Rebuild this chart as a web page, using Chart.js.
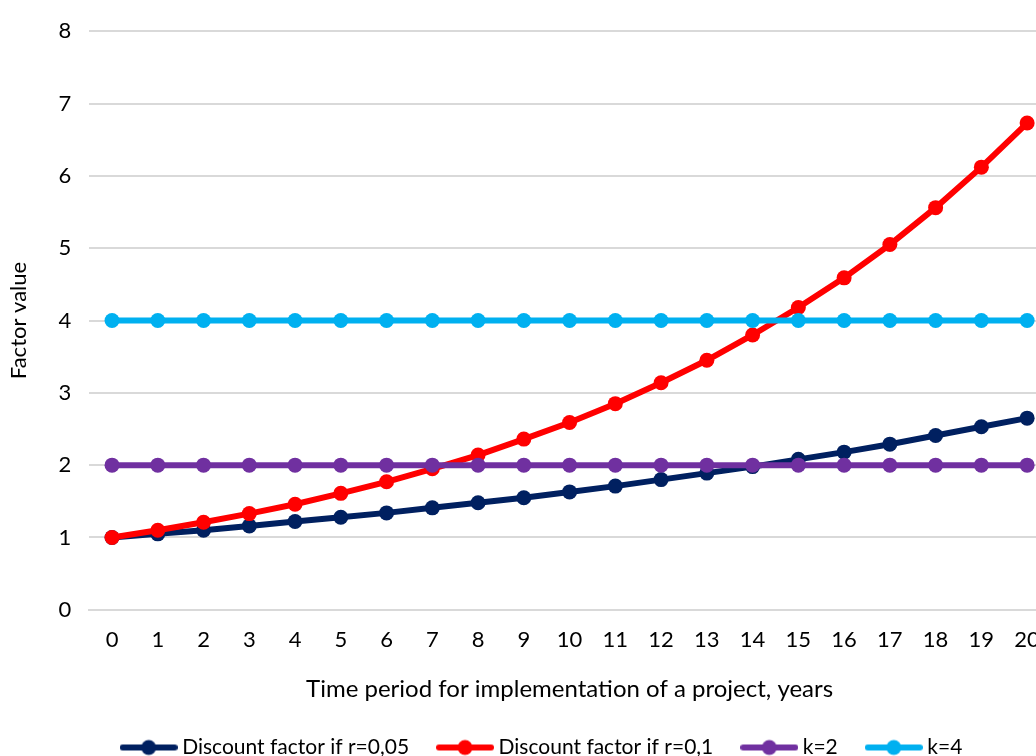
<!DOCTYPE html>
<html>
<head>
<meta charset="utf-8">
<script src="https://cdn.jsdelivr.net/npm/chart.js@4/dist/chart.umd.min.js"></script>
<style>
    html, body { margin: 0; padding: 0; background: #fff; overflow: hidden; }
    #wrap { width: 1080px; height: 768px; }
</style>
</head>
<body>
<div id="wrap"><canvas id="factorChart" width="1080" height="768"></canvas></div>
<script>
// years
const years = ['0','1','2','3','4','5','6','7','8','9','10','11','12','13','14','15','16','17','18','19','20'];
// discount factor, r = 0,05
const rate005 = [1.00, 1.05, 1.10, 1.16, 1.22, 1.28, 1.34, 1.41, 1.48, 1.55, 1.63, 1.71, 1.80, 1.89, 1.98, 2.08, 2.18, 2.29, 2.41, 2.53, 2.65];
// discount factor, r = 0,1
const rate01 = [1.00, 1.10, 1.21, 1.33, 1.46, 1.61, 1.77, 1.95, 2.14, 2.36, 2.59, 2.85, 3.14, 3.45, 3.80, 4.18, 4.59, 5.05, 5.56, 6.12, 6.73];
// constant levels
const k2 = [2,2,2,2,2,2,2,2,2,2,2,2,2,2,2,2,2,2,2,2,2];
const k4 = [4,4,4,4,4,4,4,4,4,4,4,4,4,4,4,4,4,4,4,4,4];
const seriesNames = ['Discount factor if r=0,05', 'Discount factor if r=0,1', 'k=2', 'k=4'];
const seriesColors = ['#002060', '#FF0000', '#7030A0', '#00B0F0'];

const FONT = "Lato, 'Open Sans', sans-serif";

// small line + dot picture for the legend
function legendIcon(color) {
    const c = document.createElement('canvas');
    c.width = 58;
    c.height = 18;
    const g = c.getContext('2d');
    g.strokeStyle = color;
    g.lineWidth = 6;
    g.lineCap = 'round';
    g.beginPath();
    g.moveTo(3, 9);
    g.lineTo(55, 9);
    g.stroke();
    g.fillStyle = color;
    g.beginPath();
    g.arc(29, 9, 7.5, 0, Math.PI * 2);
    g.fill();
    return c;
}

function makeSet(i, values) {
    return {
        label: seriesNames[i],
        data: values,
        borderColor: seriesColors[i],
        backgroundColor: seriesColors[i],
        borderWidth: 6,
        pointRadius: 7.5,
        pointHoverRadius: 7.5,
        pointBorderWidth: 0,
        tension: 0,
        order: 4 - i   // later series drawn on top, like the original
    };
}

// legend sits a bit right of centre in the original
const legendShift = {
    id: 'legendShift',
    afterLayout: function (chart) {
        if (chart.legend) {
            chart.legend.left += 16;
            chart.legend.right += 16;
        }
    }
};

new Chart(document.getElementById('factorChart').getContext('2d'), {
    type: 'line',
    data: {
        labels: years,
        datasets: [makeSet(0, rate005), makeSet(1, rate01), makeSet(2, k2), makeSet(3, k4)]
    },
    plugins: [legendShift],
    options: {
        responsive: false,
        animation: false,
        layout: { padding: { top: 13, right: 30, left: 6, bottom: 0 } },
        plugins: {
            tooltip: { enabled: false },
            legend: {
                position: 'bottom',
                labels: {
                    usePointStyle: true,
                    pointStyleWidth: 46,
                    padding: 33,
                    color: '#000',
                    font: { family: FONT, size: 21 },
                    sort: function (a, b) { return a.datasetIndex - b.datasetIndex; },
                    generateLabels: function (chart) {
                        return chart.data.datasets.map(function (ds, i) {
                            return {
                                text: ds.label,
                                datasetIndex: i,
                                pointStyle: legendIcon(ds.borderColor),
                                fillStyle: ds.borderColor,
                                strokeStyle: ds.borderColor,
                                lineWidth: 0,
                                fontColor: '#000',
                                hidden: false
                            };
                        });
                    }
                }
            }
        },
        scales: {
            x: {
                offset: true,
                grid: { display: false, drawTicks: false },
                border: { display: true, color: '#d9d9d9', width: 2 },
                ticks: { color: '#000', padding: 17, font: { family: FONT, size: 22 }, maxRotation: 0, autoSkip: false },
                title: {
                    display: true,
                    text: 'Time period for implementation of a project, years',
                    color: '#000',
                    font: { family: FONT, size: 24 },
                    padding: { top: 5, bottom: 0 }
                }
            },
            y: {
                min: 0,
                max: 8,
                grid: { color: '#d9d9d9', lineWidth: 2, drawTicks: false },
                border: { display: false },
                ticks: { stepSize: 1, color: '#000', padding: 18, font: { family: FONT, size: 22 } },
                title: {
                    display: true,
                    text: 'Factor value',
                    color: '#000',
                    font: { family: FONT, size: 22 },
                    padding: { top: 0, bottom: 8 }
                }
            }
        }
    }
});
</script>
</body>
</html>
